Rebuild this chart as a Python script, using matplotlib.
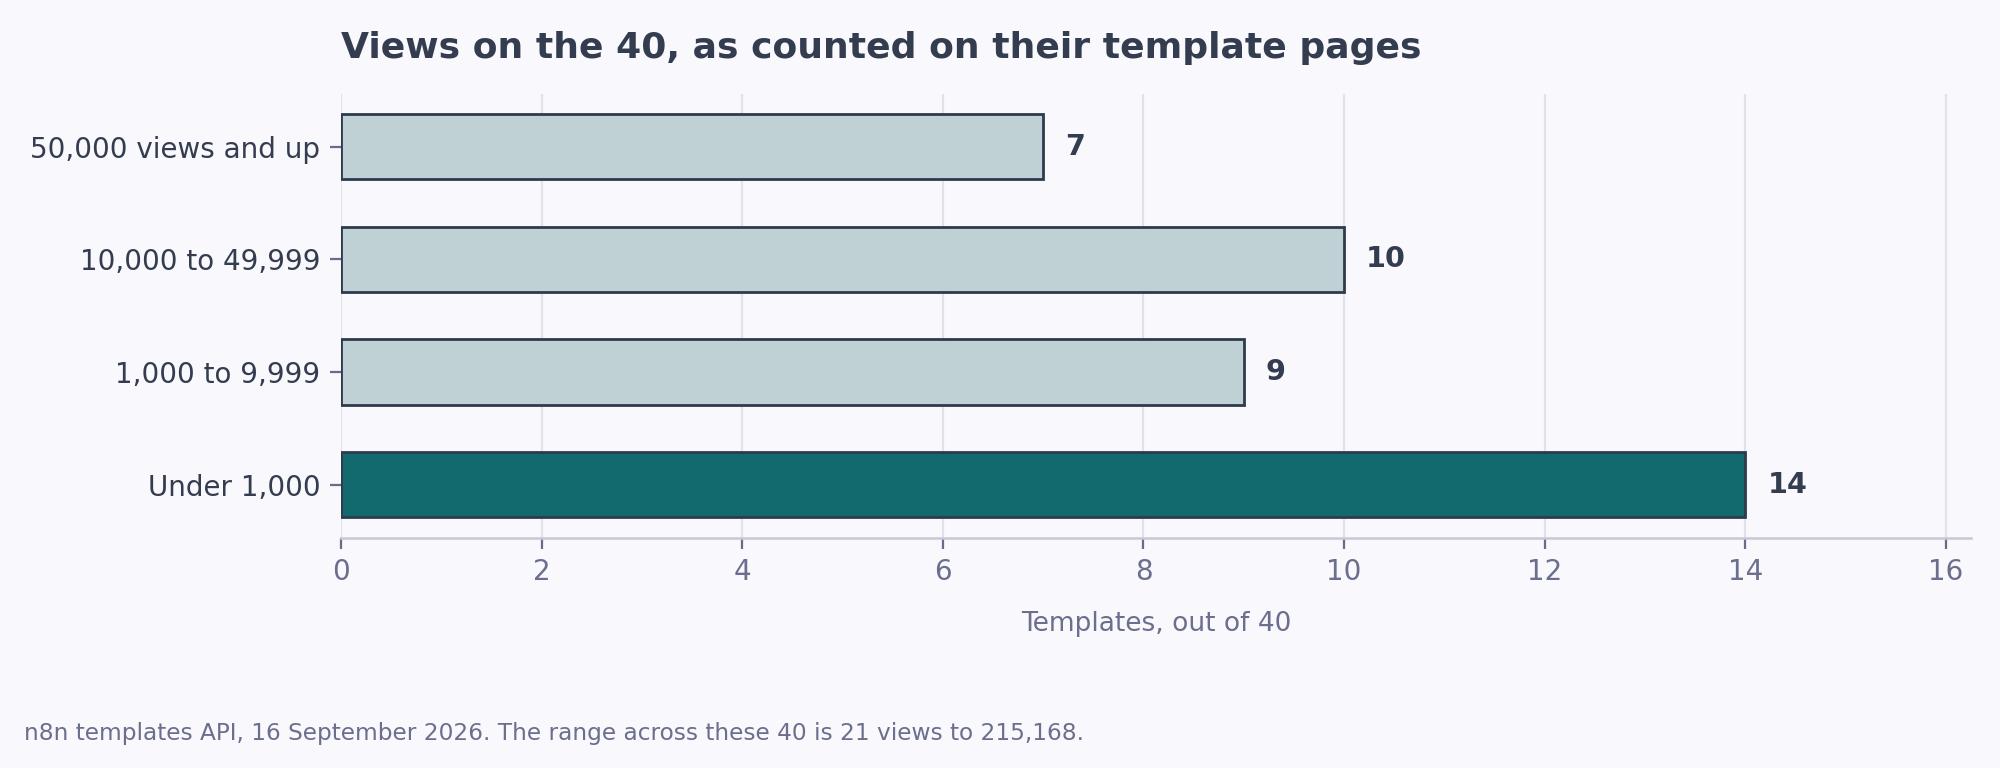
import matplotlib
matplotlib.use("Agg")
from matplotlib import pyplot as plt

categories = ["Under 1,000", "1,000 to 9,999", "10,000 to 49,999", "50,000 views and up"]
counts = [14, 9, 10, 7]
highlight = "Under 1,000"

bg = "#f8f8fd"
text_dark = "#343c4f"
text_grey = "#6b6e8c"

plt.rcParams['font.family'] = ['DejaVu Sans']

fig = plt.figure(figsize=(10, 3.84), dpi=200, facecolor=bg)
ax = fig.add_axes([0.1705, 0.30, 0.815, 0.578])
ax.set_facecolor(bg)

colors = ["#126a6e" if c == highlight else "#bfd1d4" for c in categories]
bars = ax.barh(categories, counts, height=0.58, color=colors,
               edgecolor="#2e3a4e", linewidth=1.0, zorder=3)

for b, v in zip(bars, counts):
    ax.text(b.get_width() + 0.22, b.get_y() + b.get_height() / 2, str(v),
            va='center', ha='left', fontsize=10.3, fontweight='bold', color=text_dark)

ax.set_xlim(0, 16.25)
ax.set_ylim(-0.47, 3.47)
ax.set_xticks(range(0, 17, 2))
ax.grid(axis='x', color="#e2e2ea", linewidth=0.8, zorder=0)
ax.grid(axis='y', visible=False)

for s in ['top', 'right', 'left']:
    ax.spines[s].set_visible(False)
ax.spines['bottom'].set_color("#c8c8d6")
ax.spines['bottom'].set_linewidth(0.9)

ax.tick_params(axis='x', colors="#6b6a8a", labelcolor=text_grey, labelsize=10, length=4, width=0.8)
ax.tick_params(axis='y', colors="#6b6a8a", labelcolor=text_dark, labelsize=10, length=4, width=0.8)

ax.set_xlabel("Templates, out of 40", fontsize=9.5, color=text_grey, labelpad=9)
ax.set_title("Views on the 40, as counted on their template pages", loc='left',
             fontsize=13, fontweight='bold', color=text_dark, pad=13)

fig.text(0.012, 0.045, "n8n templates API, 16 September 2026. The range across these 40 is 21 views to 215,168.",
         fontsize=8.4, color=text_grey, ha='left', va='center')

fig.savefig("out.png", dpi=200, facecolor=bg)
